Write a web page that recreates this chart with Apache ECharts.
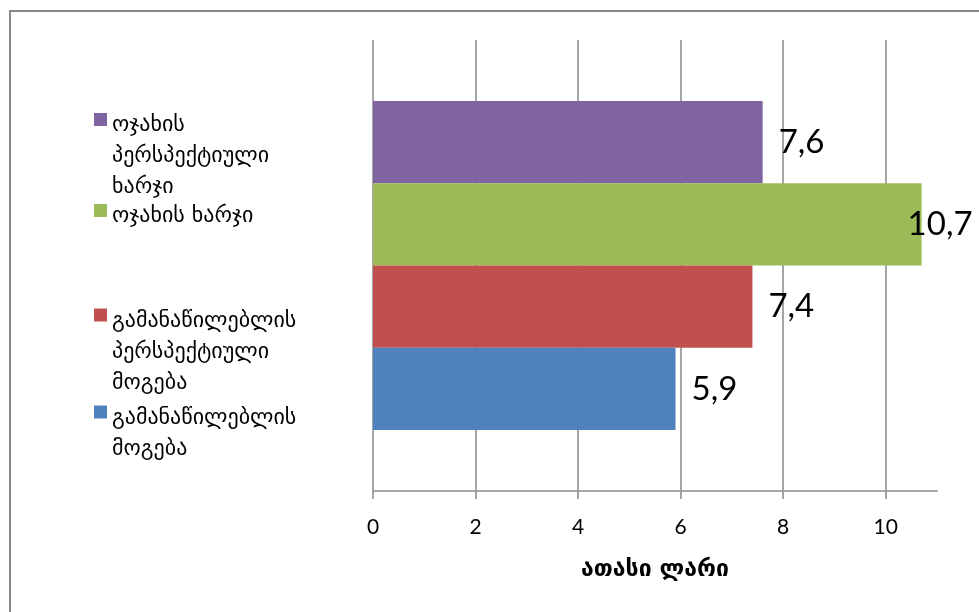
<!DOCTYPE html>
<html>
<head>
<meta charset="utf-8">
<script src="https://cdn.jsdelivr.net/npm/echarts@6/dist/echarts.min.js"></script>
<style>
  html, body { margin: 0; padding: 0; background: #fff; }
  #chart { width: 979px; height: 612px; }
</style>
</head>
<body>
<div id="chart"></div>
<script>
// data (top bar to bottom bar)
var names = [
  'ოჯახის\nპერსპექტიული\nხარჯი',
  'ოჯახის ხარჯი',
  'გამანაწილებლის\nპერსპექტიული\nმოგება',
  'გამანაწილებლის\nმოგება'
];
var values = [7.6, 10.7, 7.4, 5.9];
var colors = ['#8064A2', '#9BBB59', '#C0504D', '#4F81BD'];
var xTicks = [0, 2, 4, 6, 8, 10];
var axisName = 'ათასი ლარი';

var chart = echarts.init(document.getElementById('chart'));

// legend placement: icon centre y for each item, text line height
var iconY = [119.5, 210.5, 315, 412];
var lineH = 31;
// square on top, invisible speck at the bottom -> text sits 6px below the square centre
var legendIcon = 'path://M0,0H13V13H0Z M0,25H0.01V25.01H0Z';

var legends = names.map(function (n, i) {
  var lines = n.split('\n').length;
  var total = 2 * lines - 1; // blank lines before so the first line lines up with the icon
  return {
    data: [n],
    orient: 'vertical',
    left: 94,
    top: iconY[i] + 6 - total * lineH / 2,
    padding: 0,
    icon: legendIcon,
    itemWidth: 13,
    itemHeight: 25,
    selectedMode: false,
    formatter: function (name) {
      return new Array(lines).join('\n') + name;
    },
    textStyle: {
      fontFamily: 'DejaVu Sans',
      fontSize: 22,
      lineHeight: lineH,
      color: '#000'
    }
  };
});

var series = names.map(function (n, i) {
  var label = {
    show: true,
    position: 'right',
    distance: 16,
    fontFamily: 'Lato',
    fontSize: 33,
    color: '#000',
    formatter: function (p) { return String(p.value).replace('.', ','); }
  };
  if (values[i] > 10) label.offset = [-30, 0];
  return {
    name: n,
    type: 'bar',
    data: [values[i]],
    itemStyle: { color: colors[i] },
    barGap: '0%',
    barCategoryGap: '27%',
    label: label
  };
});

var option = {
  animation: false,
  legend: legends,
  graphic: [{
    type: 'rect',
    silent: true,
    shape: { x: 10, y: 11, width: 1000, height: 700 },
    style: { fill: 'none', stroke: '#898989', lineWidth: 2 }
  }],
  grid: {
    left: 373,
    right: 42,
    top: 40,
    bottom: 121,
    containLabel: false,
    outerBoundsMode: 'none'
  },
  xAxis: {
    type: 'value',
    min: 0,
    max: 11,
    interval: 2,
    name: axisName,
    nameLocation: 'middle',
    nameGap: 68,
    nameTextStyle: {
      fontFamily: 'DejaVu Sans',
      fontWeight: 'bold',
      fontSize: 23,
      color: '#000'
    },
    axisLine: { show: true, lineStyle: { color: '#a6a6a6', width: 2 } },
    axisTick: {
      show: true,
      length: 8,
      customValues: xTicks,
      lineStyle: { color: '#878787', width: 1.5 }
    },
    axisLabel: {
      customValues: xTicks,
      margin: 26,
      fontFamily: 'Lato',
      fontSize: 21,
      color: '#000'
    },
    splitLine: {
      show: true,
      lineStyle: { color: '#878787', width: 1.5 }
    }
  },
  yAxis: {
    type: 'category',
    data: [''],
    axisLine: { show: false },
    axisTick: { show: false },
    axisLabel: { show: false }
  },
  series: series
};

chart.setOption(option);
</script>
</body>
</html>
